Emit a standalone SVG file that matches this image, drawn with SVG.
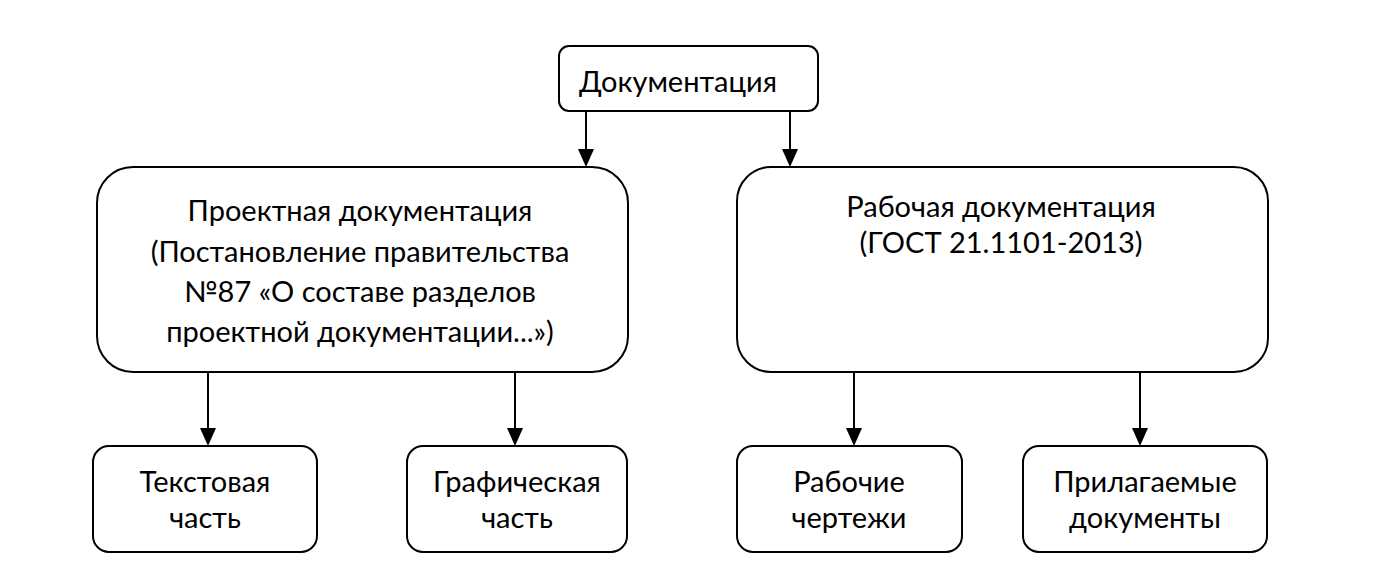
<svg xmlns="http://www.w3.org/2000/svg" width="1395" height="581" viewBox="0 0 1395 581">
<style>
.box{fill:#fff;stroke:#000;stroke-width:2}
.t{font-family:Lato,"Liberation Sans",sans-serif;font-size:29px;fill:#000;text-anchor:middle}
.c{stroke:#000;stroke-width:2;fill:none}
</style>
<defs>
<marker id="ah" markerUnits="userSpaceOnUse" markerWidth="18" markerHeight="18" viewBox="0 0 18 18" refX="2" refY="8" orient="auto">
<path d="M0,0 L18,8 L0,16 z" fill="#000"/>
</marker>
</defs>
<rect width="1395" height="581" fill="#fff"/>
<g id="connectors">
<line class="c" x1="586" y1="111" x2="586" y2="151" marker-end="url(#ah)"/>
<line class="c" x1="790" y1="111" x2="790" y2="151" marker-end="url(#ah)"/>
<line class="c" x1="208" y1="372" x2="208" y2="430" marker-end="url(#ah)"/>
<line class="c" x1="515" y1="372" x2="515" y2="430" marker-end="url(#ah)"/>
<line class="c" x1="854" y1="372" x2="854" y2="430" marker-end="url(#ah)"/>
<line class="c" x1="1140" y1="372" x2="1140" y2="430" marker-end="url(#ah)"/>
</g>
<g id="n-doc">
<rect class="box" x="559" y="46" width="259" height="65" rx="10"/>
<text class="t" x="678" y="92">Документация</text>
</g>
<g id="n-proj">
<rect class="box" x="97" y="167" width="531" height="205" rx="36"/>
<text class="t" x="360" y="221">Проектная документация</text>
<text class="t" x="360" y="262">(Постановление правительства</text>
<text class="t" x="360" y="302">№87 «О составе разделов</text>
<text class="t" x="360" y="342">проектной документации...»)</text>
</g>
<g id="n-work">
<rect class="box" x="737" y="167" width="531" height="205" rx="34"/>
<text class="t" x="1001" y="217">Рабочая документация</text>
<text class="t" x="1001" y="253">(ГОСТ 21.1101-2013)</text>
</g>
<g id="n-text">
<rect class="box" x="93" y="446" width="224" height="106" rx="16"/>
<text class="t" x="205" y="492">Текстовая</text>
<text class="t" x="205" y="528">часть</text>
</g>
<g id="n-graph">
<rect class="box" x="407" y="446" width="220" height="106" rx="16"/>
<text class="t" x="517" y="492">Графическая</text>
<text class="t" x="517" y="528">часть</text>
</g>
<g id="n-draw">
<rect class="box" x="737" y="446" width="225" height="106" rx="16"/>
<text class="t" x="849" y="492">Рабочие</text>
<text class="t" x="849" y="528">чертежи</text>
</g>
<g id="n-attach">
<rect class="box" x="1023" y="446" width="244" height="106" rx="16"/>
<text class="t" x="1145" y="492">Прилагаемые</text>
<text class="t" x="1145" y="528">документы</text>
</g>
</svg>
